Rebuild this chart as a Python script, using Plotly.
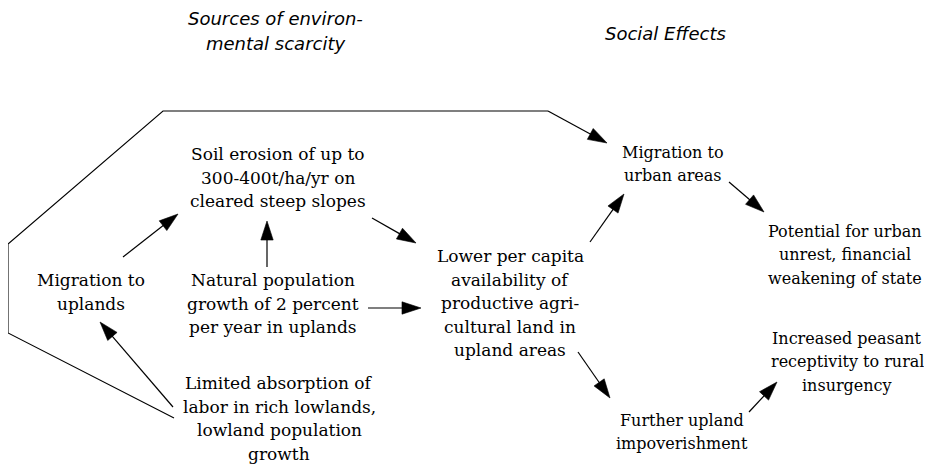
import plotly.graph_objects as go

W, H = 932, 465
PAGE_MARGIN = 8  # browser body margin around the figure

# Column headers
header_text = ["Sources of environ-", "mental scarcity", "Social Effects"]
header_x = [275, 275, 665]
header_y = [18, 43, 33]

# Diagram nodes (each line of text listed; x = centre, y = centre of first line)
node_lines = [
    ["Soil erosion of up to", "300-400t/ha/yr on", "cleared steep slopes"],
    ["Migration to", "uplands"],
    ["Natural population", "growth of 2 percent", "per year in uplands"],
    ["Limited absorption of", "labor in rich lowlands,", "lowland population", "growth"],
    ["Lower per capita", "availability of", "productive agri-", "cultural land in", "upland areas"],
    ["Migration to", "urban areas"],
    ["Potential for urban", "unrest, financial", "weakening of state"],
    ["Further upland", "impoverishment"],
    ["Increased peasant", "receptivity to rural", "insurgency"],
]
node_x = [278, 91, 273, 279, 510, 673, 845, 682, 847]
node_y = [154, 280, 280, 383, 256, 152, 231, 420, 338]

# Arrows: tail (x, y) -> head (x, y)
arrow_tail_x = [123, 267, 173, 368, 372, 590, 729, 578, 749, 548]
arrow_tail_y = [257, 267, 407, 308, 218, 242, 182, 352, 412, 111]
arrow_head_x = [178, 267, 100, 421, 416, 624, 764, 610, 777, 607]
arrow_head_y = [214, 221, 322, 308, 243, 194, 212, 398, 382, 143]

# Long connector from "Limited absorption" round the left side
path_x = [174, 8, 8, 163, 548]
path_y = [418, 333, 244, 111, 111]

# Styles
line_gap = 23.5
node_font_size = [17, 17, 17, 17, 17, 16, 16, 16, 16]

fig = go.Figure()
fig.add_trace(go.Scatter(x=path_x, y=path_y, mode="lines",
                         line=dict(color="black", width=1.1), hoverinfo="skip"))

for tx, ty, hx, hy in zip(arrow_tail_x, arrow_tail_y, arrow_head_x, arrow_head_y):
    fig.add_trace(go.Scatter(
        x=[tx, hx], y=[ty, hy], mode="lines+markers", hoverinfo="skip",
        line=dict(color="black", width=1.2),
        marker=dict(symbol=["circle", "arrow"], size=[0, 20], color="black",
                    opacity=1, angleref="previous",
                    line=dict(width=0.6, color="black")),
    ))

anns = []
for t, x, y in zip(header_text, header_x, header_y):
    anns.append(dict(x=x, y=y, xref="x", yref="y", text="<i>" + t + "</i>",
                     showarrow=False, xanchor="center", yanchor="middle",
                     font=dict(family="DejaVu Sans", size=18, color="black")))

for lines, x, y, fs in zip(node_lines, node_x, node_y, node_font_size):
    for i, ln in enumerate(lines):
        anns.append(dict(x=x, y=y + i * line_gap, xref="x", yref="y", text=ln,
                         showarrow=False, xanchor="center", yanchor="middle",
                         font=dict(family="DejaVu Serif", size=fs, color="black")))

fig.update_layout(
    width=W - PAGE_MARGIN, height=H - PAGE_MARGIN, margin=dict(l=0, r=0, t=0, b=0),
    paper_bgcolor="white", plot_bgcolor="white", showlegend=False,
    xaxis=dict(range=[PAGE_MARGIN, W], visible=False, fixedrange=True),
    yaxis=dict(range=[H, PAGE_MARGIN], visible=False, fixedrange=True),
    annotations=anns,
)
fig.write_html("out.html")
